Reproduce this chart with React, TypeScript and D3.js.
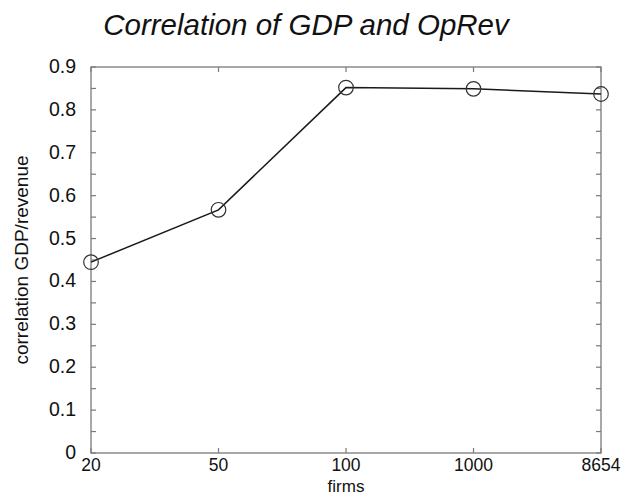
import React from "react";
import * as d3 from "d3";

const categories = ["20", "50", "100", "1000", "8654"];
const correlation = [0.445, 0.567, 0.852, 0.849, 0.837];
const yTickValues = [0, 0.1, 0.2, 0.3, 0.4, 0.5, 0.6, 0.7, 0.8, 0.9];
const yMinorTicks = [0.05, 0.15, 0.25, 0.35, 0.45, 0.55, 0.65, 0.75, 0.85];

const W = 621;
const H = 495;
const left = 91;
const right = 601;
const top = 67;
const bottom = 453;

export default function App() {
  const x = d3.scalePoint<string>().domain(categories).range([left, right]);
  const y = d3.scaleLinear().domain([0, 0.9]).range([bottom, top]);
  const line = d3
    .line<number>()
    .x((_, i) => x(categories[i]) as number)
    .y((d) => y(d));
  const axisColor = "#7a7a7a";
  const font = "Liberation Sans, Arial, Helvetica, sans-serif";
  const tick = 5;
  return (
    <svg
      width={W}
      height={H}
      style={{ position: "absolute", left: 0, top: 0, background: "#fff" }}
      fontFamily={font}
    >
      <text x={306} y={35} textAnchor="middle" fontSize={29.5} fontStyle="italic" fill="#111">
        Correlation of GDP and OpRev
      </text>
      <rect x={left} y={top} width={right - left} height={bottom - top} fill="none" stroke={axisColor} strokeWidth={1.3} />
      {[...yTickValues, ...yMinorTicks].map((v, i) => (
        <g key={"yt" + i} stroke={axisColor} strokeWidth={1.2}>
          <line x1={left} x2={left + tick} y1={y(v)} y2={y(v)} />
          <line x1={right} x2={right - tick} y1={y(v)} y2={y(v)} />
        </g>
      ))}
      {categories.map((c, i) => (
        <g key={"xt" + i} stroke={axisColor} strokeWidth={1.2}>
          <line x1={x(c)} x2={x(c)} y1={bottom} y2={bottom - tick} />
          <line x1={x(c)} x2={x(c)} y1={top} y2={top + tick} />
        </g>
      ))}
      {yTickValues.map((v, i) => (
        <text key={"yl" + i} x={76} y={y(v) + 6} textAnchor="end" fontSize={19.5} fill="#111">
          {v === 0 ? "0" : d3.format(".1f")(v)}
        </text>
      ))}
      {categories.map((c, i) => (
        <text key={"xl" + i} x={x(c)} y={471} textAnchor="middle" fontSize={17.5} fill="#111">
          {c}
        </text>
      ))}
      <text x={(left + right) / 2} y={492} textAnchor="middle" fontSize={17} fill="#111">
        firms
      </text>
      <text
        transform={`translate(28,${(top + bottom) / 2}) rotate(-90)`}
        textAnchor="middle"
        fontSize={19}
        fill="#111"
      >
        correlation GDP/revenue
      </text>
      <path d={line(correlation) || ""} fill="none" stroke="#1a1a1a" strokeWidth={1.5} />
      {correlation.map((v, i) => (
        <circle key={"pt" + i} cx={x(categories[i])} cy={y(v)} r={7.3} fill="none" stroke="#333" strokeWidth={1.2} />
      ))}
    </svg>
  );
}
